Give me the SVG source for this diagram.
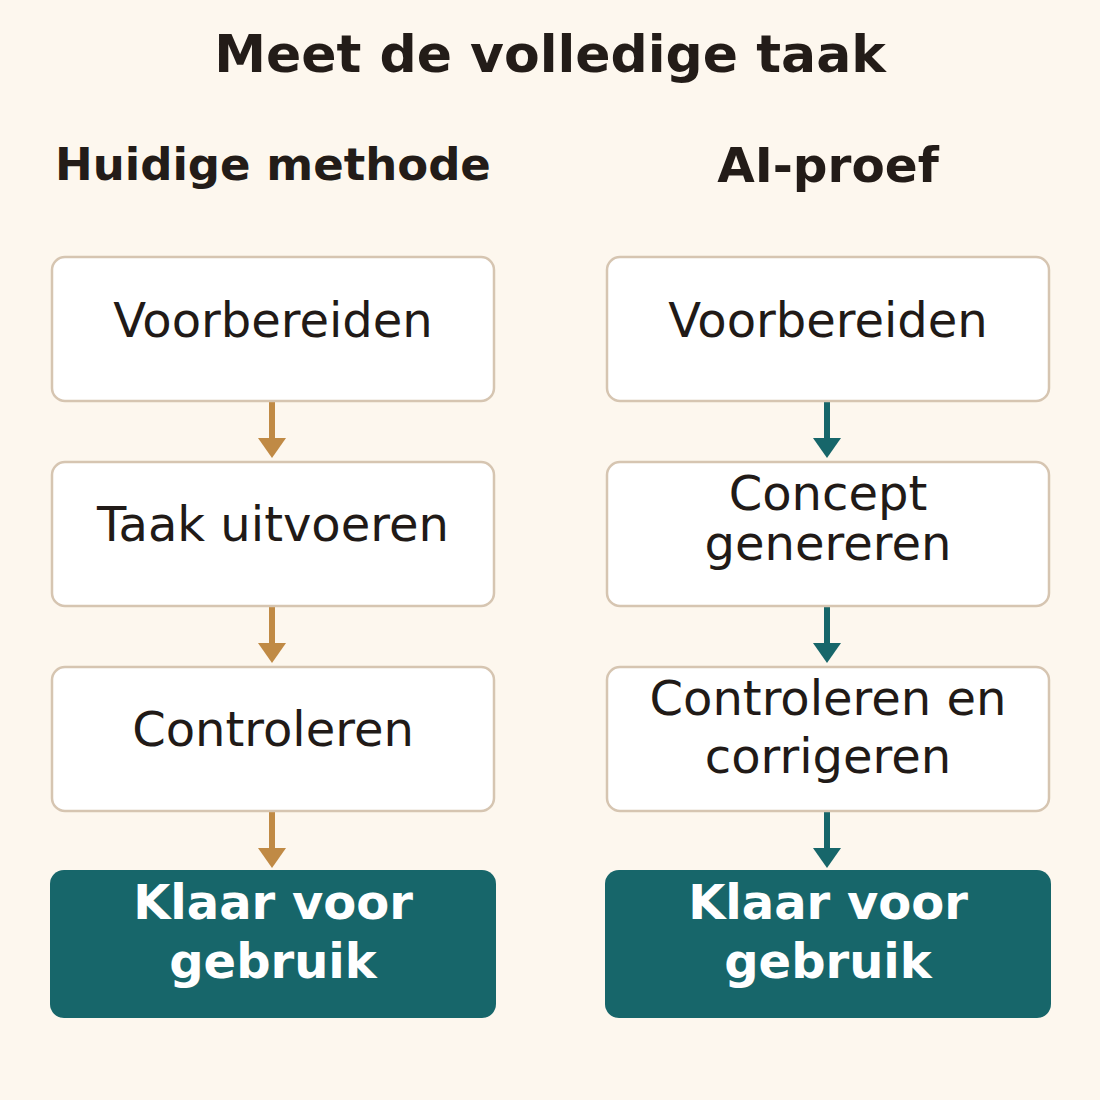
<svg xmlns="http://www.w3.org/2000/svg" width="1100" height="1100" viewBox="0 0 1100 1100">
  <style>
    text { font-family: "DejaVu Sans", "Liberation Sans", sans-serif; text-anchor: middle; }
    .title { font-size: 52px; font-weight: bold; fill: #231c18; }
    .head { font-weight: bold; fill: #231c18; }
    .box { fill: #ffffff; stroke: #d6c5b1; stroke-width: 2.5; }
    .final { fill: #17666a; }
    .lbl { font-size: 48px; fill: #211a17; }
    .flbl { font-size: 48px; font-weight: bold; fill: #ffffff; }
    .shaftL { stroke: #c08a45; stroke-width: 6; }
    .headL { fill: #c08a45; }
    .shaftR { stroke: #17666a; stroke-width: 6; }
    .headR { fill: #17666a; }
  </style>
  <rect x="0" y="0" width="1100" height="1100" fill="#fdf7ee"/>
  <text class="title" x="550" y="72">Meet de volledige taak</text>
  <text class="head" x="273" y="180" font-size="45">Huidige methode</text>
  <text class="head" x="828" y="182" font-size="48.5">AI-proef</text>

  <g id="connectors">
    <line class="shaftL" x1="272" y1="401" x2="272" y2="440"/>
    <polygon class="headL" points="258,438 286,438 272,458"/>
    <line class="shaftL" x1="272" y1="606" x2="272" y2="645"/>
    <polygon class="headL" points="258,643 286,643 272,663"/>
    <line class="shaftL" x1="272" y1="811" x2="272" y2="850"/>
    <polygon class="headL" points="258,848 286,848 272,868"/>
    <line class="shaftR" x1="827" y1="401" x2="827" y2="440"/>
    <polygon class="headR" points="813,438 841,438 827,458"/>
    <line class="shaftR" x1="827" y1="606" x2="827" y2="645"/>
    <polygon class="headR" points="813,643 841,643 827,663"/>
    <line class="shaftR" x1="827" y1="811" x2="827" y2="850"/>
    <polygon class="headR" points="813,848 841,848 827,868"/>
  </g>

  <g id="l1">
    <rect class="box" x="52" y="257" width="442" height="144" rx="13"/>
    <text class="lbl" x="273" y="337">Voorbereiden</text>
  </g>
  <g id="l2">
    <rect class="box" x="52" y="462" width="442" height="144" rx="13"/>
    <text class="lbl" x="273" y="541">Taak uitvoeren</text>
  </g>
  <g id="l3">
    <rect class="box" x="52" y="667" width="442" height="144" rx="13"/>
    <text class="lbl" x="273" y="746">Controleren</text>
  </g>
  <g id="l4">
    <rect class="final" x="50" y="870" width="446" height="148" rx="14"/>
    <text class="flbl" x="273" y="919">Klaar voor</text>
    <text class="flbl" x="273" y="978">gebruik</text>
  </g>

  <g id="r1">
    <rect class="box" x="607" y="257" width="442" height="144" rx="13"/>
    <text class="lbl" x="828" y="337">Voorbereiden</text>
  </g>
  <g id="r2">
    <rect class="box" x="607" y="462" width="442" height="144" rx="13"/>
    <text class="lbl" x="828" y="510">Concept</text>
    <text class="lbl" x="828" y="560">genereren</text>
  </g>
  <g id="r3">
    <rect class="box" x="607" y="667" width="442" height="144" rx="13"/>
    <text class="lbl" x="828" y="715">Controleren en</text>
    <text class="lbl" x="828" y="773">corrigeren</text>
  </g>
  <g id="r4">
    <rect class="final" x="605" y="870" width="446" height="148" rx="14"/>
    <text class="flbl" x="828" y="919">Klaar voor</text>
    <text class="flbl" x="828" y="978">gebruik</text>
  </g>
</svg>
